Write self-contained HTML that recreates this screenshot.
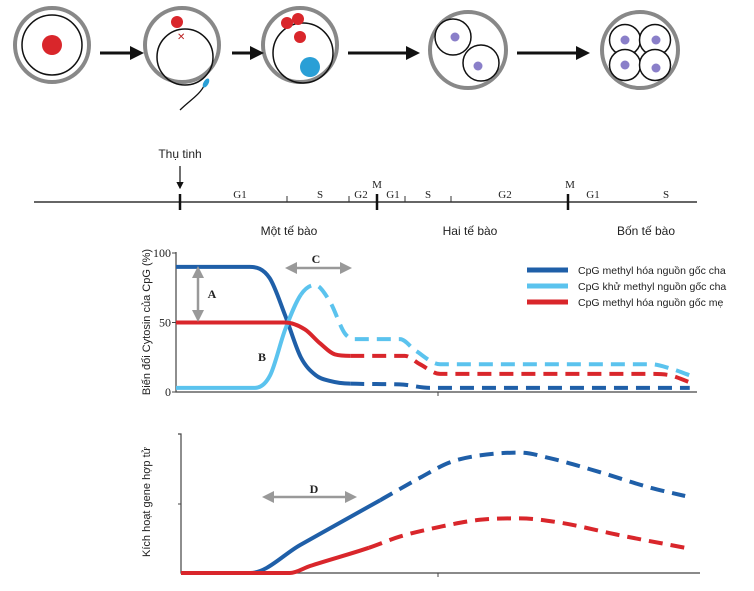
<!DOCTYPE html>
<html><head><meta charset="utf-8"><style>
body{margin:0;background:#fff}
svg{display:block}
text{font-family:"Liberation Sans",sans-serif}
.s, .s text, text.s{font-family:"Liberation Serif",serif}
</style></head><body>
<svg id="c" width="754" height="591" viewBox="0 0 754 591">
<defs><marker id="ah" markerWidth="6" markerHeight="6" refX="5" refY="3" orient="auto"><path d="M0,0L6,3L0,6z" fill="#111"/></marker></defs>
<g>
<circle cx="52" cy="45" r="37" fill="none" stroke="#888" stroke-width="4"/><circle cx="52" cy="45" r="30" fill="none" stroke="#111" stroke-width="1.5"/><circle cx="52" cy="45" r="10" fill="#d9262b"/></g>
<g>
<circle cx="182" cy="45" r="37" fill="none" stroke="#888" stroke-width="4"/><circle cx="185" cy="57" r="28" fill="none" stroke="#111" stroke-width="1.5"/><circle cx="177" cy="22" r="6" fill="#d9262b"/><text x="177" y="40" font-size="10" fill="#b22">✕</text>
<path d="M205,84 C200,95 190,100 180,110" fill="none" stroke="#111" stroke-width="1.3"/><ellipse cx="206" cy="83" rx="2.5" ry="5" fill="#2a9fd6" transform="rotate(30 206 83)"/></g>
<g>
<circle cx="300" cy="45" r="37" fill="none" stroke="#888" stroke-width="4"/><circle cx="303" cy="53" r="30" fill="none" stroke="#111" stroke-width="1.5"/><circle cx="287" cy="23" r="6" fill="#d9262b"/><circle cx="298" cy="19" r="6" fill="#d9262b"/><circle cx="300" cy="37" r="6" fill="#d9262b"/><circle cx="310" cy="67" r="10" fill="#2a9fd6"/></g>
<g>
<circle cx="468" cy="50" r="38" fill="none" stroke="#888" stroke-width="4"/><circle cx="453" cy="37" r="18" fill="#fff" stroke="#111" stroke-width="1.5"/><circle cx="481" cy="63" r="18" fill="#fff" stroke="#111" stroke-width="1.5"/><circle cx="455" cy="37" r="4.5" fill="#8a7fc9"/><circle cx="478" cy="66" r="4.5" fill="#8a7fc9"/></g>
<g>
<circle cx="640" cy="50" r="38" fill="none" stroke="#888" stroke-width="4"/>
<circle cx="625" cy="40" r="15.5" fill="#fff" stroke="#111" stroke-width="1.5"/><circle cx="655" cy="40" r="15.5" fill="#fff" stroke="#111" stroke-width="1.5"/><circle cx="625" cy="65" r="15.5" fill="#fff" stroke="#111" stroke-width="1.5"/><circle cx="655" cy="65" r="15.5" fill="#fff" stroke="#111" stroke-width="1.5"/>
<circle cx="625" cy="40" r="4.5" fill="#8a7fc9"/><circle cx="656" cy="40" r="4.5" fill="#8a7fc9"/><circle cx="625" cy="65" r="4.5" fill="#8a7fc9"/><circle cx="656" cy="68" r="4.5" fill="#8a7fc9"/></g>
<g stroke="#111" stroke-width="3">
<line x1="100" y1="53" x2="132" y2="53"/><path d="M130,46L144,53L130,60z" fill="#111" stroke="none"/>
<line x1="232" y1="53" x2="252" y2="53"/><path d="M250,46L264,53L250,60z" fill="#111" stroke="none"/>
<line x1="348" y1="53" x2="408" y2="53"/><path d="M406,46L420,53L406,60z" fill="#111" stroke="none"/>
<line x1="517" y1="53" x2="578" y2="53"/><path d="M576,46L590,53L576,60z" fill="#111" stroke="none"/>
</g>
<g>
<line x1="34" y1="202" x2="697" y2="202" stroke="#333" stroke-width="1.5"/>
<g stroke="#111" stroke-width="2.5"><line x1="180" y1="194" x2="180" y2="210"/><line x1="377" y1="194" x2="377" y2="210"/><line x1="568" y1="194" x2="568" y2="210"/></g>
<g stroke="#333" stroke-width="1"><line x1="287" y1="196" x2="287" y2="202"/><line x1="349" y1="196" x2="349" y2="202"/><line x1="405" y1="196" x2="405" y2="202"/><line x1="451" y1="196" x2="451" y2="202"/></g>
<text x="180" y="158" font-size="12" text-anchor="middle" fill="#222">Thụ tinh</text>
<line x1="180" y1="166" x2="180" y2="188" stroke="#111" stroke-width="1.2" marker-end="url(#ah)"/>
<g class="s" font-size="11" fill="#222" text-anchor="middle">
<text x="240" y="198">G1</text><text x="320" y="198">S</text><text x="361" y="198">G2</text><text x="377" y="188">M</text><text x="393" y="198">G1</text><text x="428" y="198">S</text><text x="505" y="198">G2</text><text x="570" y="188">M</text><text x="593" y="198">G1</text><text x="666" y="198">S</text></g>
<g font-size="12" fill="#222" text-anchor="middle"><text x="289" y="235">Một tế bào</text><text x="470" y="235">Hai tế bào</text><text x="646" y="235">Bốn tế bào</text></g>
</g>
<g id="topchart"></g>
<g id="botchart"></g>
</svg>
<script>
const topSeriesNames=["CpG methyl hóa nguồn gốc cha","CpG khử methyl nguồn gốc cha","CpG methyl hóa nguồn gốc mẹ"];
const topColors=["#1f5fa8","#5bc3ee","#d9262b"];
const paternalMethT=[0,14.2,18,21,24,26.9,29.6,33.5,43,48.8,98.8];
const paternalMethV=[90,90,82,55,25,12,8,6,5.5,3,3];
const paternalDemethT=[0,15.2,18.1,21,24,26.7,29.6,32.5,34.4,43.1,46,50.8,91.2,95,98.8];
const paternalDemethV=[3,3,12,45,70,77,65,42,38,38,30,20,20,17,12];
const maternalMethT=[0,21,24.8,27.7,30.6,33.5,44,46.9,50.8,91.2,95,98.8];
const maternalMethV=[50,50,45,35,27,26,26,20,13,13,12,7];
const topSolidUntil=[33,23,33];
const yTicks=[0,50,100];
const botBlueT=[0,13.4,23.1,38.6,46.3,52.1,57.9,65.7,71.5,81.2,90.9,97.7];
const botBlueV=[0,0,20,52,68,79,84,86,82,72,61,55];
const botRedT=[0,21.1,25,36.4,42.4,50.2,57.9,65.7,73.4,85,97.7];
const botRedV=[0,0,5,18,26,33,38,39,36,27,18];
const botSolidUntil=[38.6,36.4];
const NS='http://www.w3.org/2000/svg';
function mk(p,tag,at){const e=document.createElementNS(NS,tag);for(const k in at)e.setAttribute(k,at[k]);p.appendChild(e);return e;}
const xa=t=>176+t*5.2, ya=v=>392-v*1.39;
const xb=t=>181+t*5.16, yb=v=>573-v*1.4;
function monoTangents(p){const n=p.length,d=[],m=[];
 for(let i=0;i<n-1;i++)d.push((p[i+1][1]-p[i][1])/(p[i+1][0]-p[i][0]));
 for(let i=0;i<n;i++){if(i===0)m.push(d[0]);else if(i===n-1)m.push(d[n-2]);else m.push(d[i-1]*d[i]<=0?0:(d[i-1]+d[i])/2);}
 for(let i=0;i<n-1;i++){if(d[i]===0){m[i]=0;m[i+1]=0;continue;}const a=m[i]/d[i],b=m[i+1]/d[i],s=a*a+b*b;if(s>9){const t=3/Math.sqrt(s);m[i]=t*a*d[i];m[i+1]=t*b*d[i];}}
 return m;}
function pathFrom(p,m,i0,i1){let d='M'+p[i0][0]+','+p[i0][1];
 for(let i=i0;i<i1;i++){const h=(p[i+1][0]-p[i][0])/3;d+=' C'+(p[i][0]+h)+','+(p[i][1]+h*m[i])+' '+(p[i+1][0]-h)+','+(p[i+1][1]-h*m[i+1])+' '+p[i+1][0]+','+p[i+1][1];}
 return d;}
function series(g,T,V,split,col,xs,ys,name){
 const pts=T.map((t,i)=>[xs(t),ys(V[i])]);
 const m=monoTangents(pts);
 let k=T.findIndex(t=>t>=split);if(k<0)k=T.length-1;
 const s=mk(g,'path',{d:pathFrom(pts,m,0,k),fill:'none',stroke:col,'stroke-width':4});
 
 
 if(k<pts.length-1){const dsh=mk(g,'path',{d:pathFrom(pts,m,k,pts.length-1),fill:'none',stroke:col,'stroke-width':4,'stroke-dasharray':'14 8'});
 
 }
}
const topG=document.getElementById('topchart');
mk(topG,'path',{d:'M176,252V392H697',fill:'none',stroke:'#444','stroke-width':1.2});
mk(topG,'line',{x1:438,y1:392,x2:438,y2:396,stroke:'#444'});
yTicks.forEach(v=>{mk(topG,'line',{x1:172,y1:ya(v),x2:176,y2:ya(v),stroke:'#444'});
 const t=mk(topG,'text',{x:171,y:ya(v)+4,'font-size':12,'text-anchor':'end',class:'s',fill:'#222'});t.textContent=v;
 
 });
const yt=mk(topG,'text',{x:0,y:0,'font-size':11,'text-anchor':'middle',fill:'#222',transform:'translate(150,322) rotate(-90)'});yt.textContent='Biến đổi Cytosin  của CpG (%)';


series(topG,paternalMethT,paternalMethV,topSolidUntil[0],topColors[0],xa,ya,'paternal-methylated');
series(topG,paternalDemethT,paternalDemethV,topSolidUntil[1],topColors[1],xa,ya,'paternal-demethylated');
series(topG,maternalMethT,maternalMethV,topSolidUntil[2],topColors[2],xa,ya,'maternal-methylated');
topSeriesNames.forEach((n,i)=>{const y=270+i*16;
 const l=mk(topG,'line',{x1:527,y1:y,x2:568,y2:y,stroke:topColors[i],'stroke-width':5});
 
 
 const t=mk(topG,'text',{x:578,y:y+4,'font-size':10.5,fill:'#222'});t.textContent=n;
 
 });
function garrow(g,x1,y1,x2,y2){const dx=x2-x1,dy=y2-y1,L=Math.hypot(dx,dy),ux=dx/L,uy=dy/L;
 mk(g,'line',{x1:x1+ux*8,y1:y1+uy*8,x2:x2-ux*8,y2:y2-uy*8,stroke:'#999','stroke-width':2.5});
 [[x1,y1,1],[x2,y2,-1]].forEach(([x,y,s])=>{const bx=x+ux*12*s,by=y+uy*12*s;mk(g,'path',{d:`M${x},${y}L${bx-uy*6},${by+ux*6}L${bx+uy*6},${by-ux*6}z`,fill:'#999'});});}
garrow(topG,198,266,198,322);garrow(topG,285,268,352,268);
[['A',212,298],['B',262,361],['C',316,263]].forEach(([s,x,y])=>{const t=mk(topG,'text',{x,y,'font-size':12,'font-weight':'bold',class:'s','text-anchor':'middle',fill:'#222'});t.textContent=s;
 
 });
const botG=document.getElementById('botchart');
mk(botG,'path',{d:'M178,434H181V573H700',fill:'none',stroke:'#444','stroke-width':1.2});
mk(botG,'line',{x1:178,y1:504,x2:181,y2:504,stroke:'#444'});
mk(botG,'line',{x1:438,y1:573,x2:438,y2:577,stroke:'#444'});
const bt=mk(botG,'text',{x:0,y:0,'font-size':11,'text-anchor':'middle',fill:'#222',transform:'translate(150,502) rotate(-90)'});bt.textContent='Kích hoạt gene hợp tử';


series(botG,botBlueT,botBlueV,botSolidUntil[0],'#1f5fa8',xb,yb,'paternal-activation');
series(botG,botRedT,botRedV,botSolidUntil[1],'#d9262b',xb,yb,'maternal-activation');
garrow(botG,262,497,357,497);
const dl=mk(botG,'text',{x:314,y:493,'font-size':12,'font-weight':'bold',class:'s','text-anchor':'middle',fill:'#222'});dl.textContent='D';


</script>
</body></html>
